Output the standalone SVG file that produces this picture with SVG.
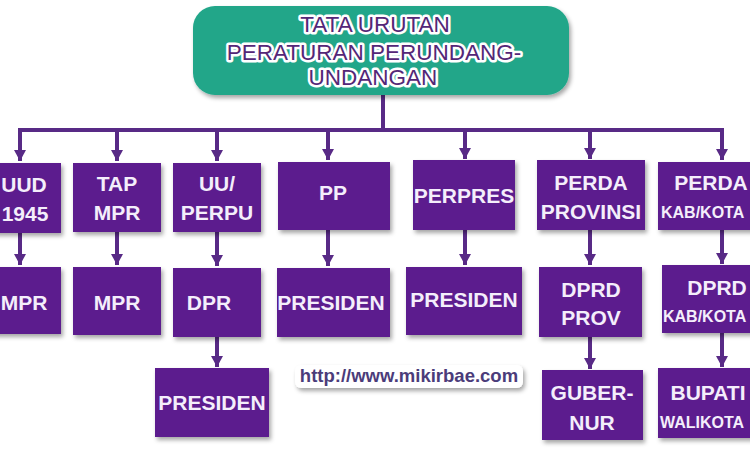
<svg xmlns="http://www.w3.org/2000/svg" width="750" height="450" viewBox="0 0 750 450">
<defs>
<style>
.box{fill:#5b1e8e;}
.lbl{font-family:"Liberation Sans",Arial,sans-serif;font-weight:bold;font-size:21px;fill:#f4eefb;text-anchor:middle;}
.lft{text-anchor:start;}
.sm{font-size:16px;}
.ttl{font-family:"Liberation Sans",Arial,sans-serif;font-size:22.5px;fill:#542777;text-anchor:middle;stroke:#ffffff;stroke-width:5px;stroke-linejoin:round;paint-order:stroke;}
.con{stroke:#582a86;stroke-width:4;fill:none;}
.url{font-family:"Liberation Sans",Arial,sans-serif;font-weight:bold;font-size:18.5px;fill:#4b3c7a;text-anchor:middle;}
</style>
<filter id="sh" x="-20%" y="-20%" width="150%" height="160%">
<feDropShadow dx="2" dy="3" stdDeviation="2" flood-color="#000" flood-opacity="0.35"/>
</filter>
<marker id="arr" markerWidth="12" markerHeight="11" refX="6" refY="11" orient="0" markerUnits="userSpaceOnUse" viewBox="0 0 12 11">
<path d="M0,0 L12,0 L6,11 Z" fill="#582a86"/>
</marker>
</defs>
<rect width="750" height="450" fill="#ffffff"/>

<g id="connectors">
<path class="con" d="M383,95 V130"/>
<path class="con" d="M18,130 H724"/>
<path class="con" d="M20,128 V161" marker-end="url(#arr)"/>
<path class="con" d="M117,130 V161" marker-end="url(#arr)"/>
<path class="con" d="M217,130 V161" marker-end="url(#arr)"/>
<path class="con" d="M328,130 V160" marker-end="url(#arr)"/>
<path class="con" d="M465,130 V159" marker-end="url(#arr)"/>
<path class="con" d="M590,130 V159" marker-end="url(#arr)"/>
<path class="con" d="M722,128 V160" marker-end="url(#arr)"/>
<path class="con" d="M20,232 V265" marker-end="url(#arr)"/>
<path class="con" d="M117,232 V265" marker-end="url(#arr)"/>
<path class="con" d="M217,232 V266" marker-end="url(#arr)"/>
<path class="con" d="M328,230 V266" marker-end="url(#arr)"/>
<path class="con" d="M465,230 V265" marker-end="url(#arr)"/>
<path class="con" d="M590,230 V265" marker-end="url(#arr)"/>
<path class="con" d="M722,230 V264" marker-end="url(#arr)"/>
<path class="con" d="M217,337 V367" marker-end="url(#arr)"/>
<path class="con" d="M590,337 V369" marker-end="url(#arr)"/>
<path class="con" d="M722,333 V367" marker-end="url(#arr)"/>
</g>

<g id="title">
<rect x="193" y="6" width="376" height="89" rx="22" fill="#20a689" filter="url(#sh)"/>
<text class="ttl" x="375" y="32">TATA URUTAN</text>
<text class="ttl" x="374" y="60">PERATURAN PERUNDANG-</text>
<text class="ttl" x="373" y="85">UNDANGAN</text>
</g>

<g id="uud">
<rect class="box" x="-26" y="163" width="87" height="70" filter="url(#sh)"/>
<text class="lbl" x="24" y="192">UUD</text>
<text class="lbl" x="25" y="221">1945</text>
</g>
<g id="tapmpr">
<rect class="box" x="73" y="163" width="88" height="69" filter="url(#sh)"/>
<text class="lbl" x="117" y="191">TAP</text>
<text class="lbl" x="117" y="220">MPR</text>
</g>
<g id="uuperpu">
<rect class="box" x="173" y="163" width="88" height="69" filter="url(#sh)"/>
<text class="lbl" x="217" y="191">UU/</text>
<text class="lbl" x="217" y="220">PERPU</text>
</g>
<g id="pp">
<rect class="box" x="278" y="162" width="112" height="68" filter="url(#sh)"/>
<text class="lbl" x="333" y="200">PP</text>
</g>
<g id="perpres">
<rect class="box" x="413" y="160" width="102" height="70" filter="url(#sh)"/>
<text class="lbl" x="464" y="203">PERPRES</text>
</g>
<g id="perdaprov">
<rect class="box" x="537" y="160" width="108" height="70" filter="url(#sh)"/>
<text class="lbl" x="591" y="190">PERDA</text>
<text class="lbl" x="591" y="219">PROVINSI</text>
</g>
<g id="perdakab">
<rect class="box" x="658" y="162" width="130" height="68" filter="url(#sh)"/>
<text class="lbl" x="711" y="190">PERDA</text>
<text class="lbl sm lft" x="661" y="218">KAB/KOTA</text>
</g>

<g id="mpr1">
<rect class="box" x="-26" y="267" width="87" height="67" filter="url(#sh)"/>
<text class="lbl" x="24" y="310">MPR</text>
</g>
<g id="mpr2">
<rect class="box" x="73" y="267" width="88" height="68" filter="url(#sh)"/>
<text class="lbl" x="117" y="310">MPR</text>
</g>
<g id="dpr">
<rect class="box" x="173" y="268" width="88" height="69" filter="url(#sh)"/>
<text class="lbl" x="209" y="310">DPR</text>
</g>
<g id="presiden-pp">
<rect class="box" x="277" y="268" width="113" height="69" filter="url(#sh)"/>
<text class="lbl" x="331" y="310">PRESIDEN</text>
</g>
<g id="presiden-perpres">
<rect class="box" x="406" y="267" width="116" height="68" filter="url(#sh)"/>
<text class="lbl" x="464" y="307">PRESIDEN</text>
</g>
<g id="dprdprov">
<rect class="box" x="539" y="267" width="103" height="70" filter="url(#sh)"/>
<text class="lbl" x="591" y="297">DPRD</text>
<text class="lbl" x="591" y="325">PROV</text>
</g>
<g id="dprdkab">
<rect class="box" x="662" y="265" width="128" height="68" filter="url(#sh)"/>
<text class="lbl" x="717" y="295">DPRD</text>
<text class="lbl sm lft" x="663" y="322">KAB/KOTA</text>
</g>

<g id="presiden-dpr">
<rect class="box" x="155" y="368" width="114" height="69" filter="url(#sh)"/>
<text class="lbl" x="212" y="410">PRESIDEN</text>
</g>
<g id="gubernur">
<rect class="box" x="542" y="370" width="101" height="70" filter="url(#sh)"/>
<text class="lbl" x="592" y="400">GUBER-</text>
<text class="lbl" x="592" y="430">NUR</text>
</g>
<g id="bupati">
<rect class="box" x="658" y="368" width="130" height="70" filter="url(#sh)"/>
<text class="lbl" x="708" y="400">BUPATI</text>
<text class="lbl sm lft" x="660" y="428">WALIKOTA</text>
</g>

<g id="url">
<rect x="295" y="365" width="228" height="23" rx="6" fill="#ffffff" filter="url(#sh)"/>
<text class="url" x="409" y="382">http://www.mikirbae.com</text>
</g>
</svg>
